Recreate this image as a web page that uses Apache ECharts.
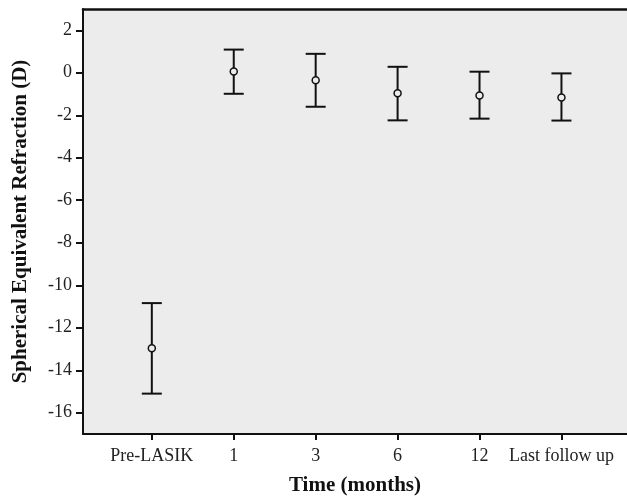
<!DOCTYPE html>
<html>
<head>
<meta charset="utf-8">
<script src="https://cdn.jsdelivr.net/npm/echarts@6/dist/echarts.min.js"></script>
<style>
  html, body { margin: 0; padding: 0; background: #fff; }
  #chart { width: 627px; height: 497px; }
</style>
</head>
<body>
<div id="chart"></div>
<script>
var categories = ['Pre-LASIK', '1', '3', '6', '12', 'Last follow up'];
var means = [-12.97, 0.06, -0.35, -0.97, -1.07, -1.16];
var upper = [-10.84, 1.09, 0.89, 0.28, 0.05, -0.03];
var lower = [-15.10, -0.99, -1.60, -2.24, -2.16, -2.25];
var yTicks = [2, 0, -2, -4, -6, -8, -10, -12, -14, -16];

var chart = echarts.init(document.getElementById('chart'));

var points = categories.map(function (c, i) {
  return [i + 1, means[i], upper[i], lower[i]];
});

var font = 'Liberation Serif';

var option = {
  animation: false,
  grid: {
    left: 83, top: 9, right: 0, bottom: 63,
    outerBoundsMode: 'none',
    show: true, backgroundColor: '#ececec', borderWidth: 0
  },
  xAxis: [{
    type: 'value',
    min: 0.16, max: 6.8,
    name: 'Time (months)',
    nameLocation: 'middle',
    nameGap: 41,
    nameTextStyle: {fontFamily: font, fontSize: 21, fontWeight: 'bold', color: '#111'},
    axisLine: {show: true, onZero: false, lineStyle: {color: '#111', width: 2}},
    axisTick: {show: true, length: 6, lineStyle: {color: '#111', width: 2}, customValues: [1, 2, 3, 4, 5, 6]},
    axisLabel: {
      customValues: [1, 2, 3, 4, 5, 6],
      margin: 13,
      fontFamily: font, fontSize: 18, color: '#222',
      formatter: function (v) { return categories[Math.round(v) - 1] || ''; }
    },
    splitLine: {show: false}
  }, {
    type: 'value',
    position: 'top',
    min: 0.16, max: 6.8,
    axisLine: {show: true, onZero: false, lineStyle: {color: '#111', width: 2.5}},
    axisTick: {show: false},
    axisLabel: {show: false},
    splitLine: {show: false}
  }],
  yAxis: {
    type: 'value',
    min: -17, max: 3,
    name: 'Spherical Equivalent Refraction (D)',
    nameLocation: 'middle',
    nameGap: 52,
    nameTextStyle: {fontFamily: font, fontSize: 21, fontWeight: 'bold', color: '#111'},
    axisLine: {show: true, onZero: false, lineStyle: {color: '#111', width: 2}},
    axisTick: {show: true, length: 7, lineStyle: {color: '#111', width: 2}, customValues: yTicks},
    axisLabel: {customValues: yTicks, margin: 11, fontFamily: font, fontSize: 18, color: '#222'},
    splitLine: {show: false}
  },
  series: [{
    type: 'custom',
    xAxisIndex: 0,
    data: points,
    renderItem: function (params, api) {
      var x = api.coord([api.value(0), api.value(1)])[0];
      var yMean = api.coord([api.value(0), api.value(1)])[1];
      var yHi = api.coord([api.value(0), api.value(2)])[1];
      var yLo = api.coord([api.value(0), api.value(3)])[1];
      var half = 10;
      var st = {stroke: '#111', lineWidth: 2, fill: null};
      return {
        type: 'group',
        children: [
          {type: 'line', shape: {x1: x, y1: yHi, x2: x, y2: yLo}, style: st},
          {type: 'line', shape: {x1: x - half, y1: yHi, x2: x + half, y2: yHi}, style: st},
          {type: 'line', shape: {x1: x - half, y1: yLo, x2: x + half, y2: yLo}, style: st},
          {type: 'circle', shape: {cx: x, cy: yMean, r: 3.5}, style: {stroke: '#111', lineWidth: 1.5, fill: '#ececec'}}
        ]
      };
    }
  }]
};

chart.setOption(option);
</script>
</body>
</html>
